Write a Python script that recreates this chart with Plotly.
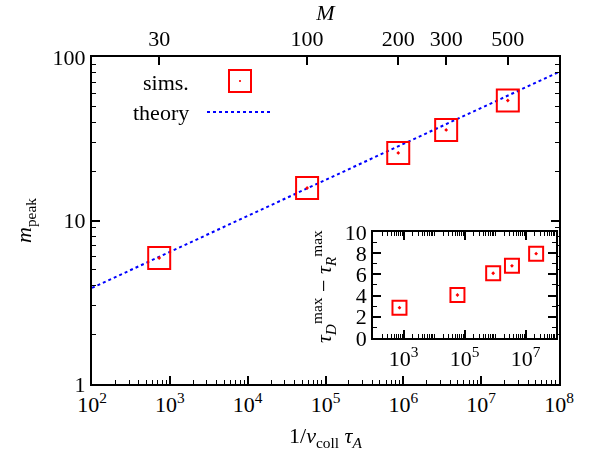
import plotly.graph_objects as go

# ---- data ----
coll_x = [7.3e2, 5.8e4, 8.6e5, 3.55e6, 2.2e7]      # 1/nu_coll tau_A
m_peak = [5.9, 15.8, 25.9, 35.8, 54.2]               # sims.
tau_diff = [2.85, 4.05, 6.1, 6.8, 7.95]              # tau_D^max - tau_R^max
theory_x = [1e2, 1e8]
theory_y = [3.87, 81.0]
M_labels = ["30", "100", "200", "300", "500"]
x_tick_vals = [1e2, 1e3, 1e4, 1e5, 1e6, 1e7, 1e8]
x_tick_text = ["10<sup>%d</sup>" % k for k in range(2, 9)]
inset_x_ticks = [1e3, 1e5, 1e7]
inset_x_text = ["10<sup>3</sup>", "10<sup>5</sup>", "10<sup>7</sup>"]

FONT = "Liberation Serif"
FS = 22
RED = "#ff0000"
BLUE = "#0000ff"

minor_x = [m * 10 ** k for k in range(2, 8) for m in range(2, 10)]
minor_y = [m * 10 ** k for k in range(0, 2) for m in range(2, 10)]
minor_inset_x = [m * 10 ** k for k in range(2, 8) for m in range(1, 10)
                 if not (m == 1 and k in (3, 5, 7))]

fig = go.Figure()

fig.add_trace(go.Scatter(x=theory_x, y=theory_y, mode="lines",
                         line=dict(color=BLUE, width=2, dash="dot"),
                         xaxis="x", yaxis="y", showlegend=False, hoverinfo="skip"))
fig.add_trace(go.Scatter(x=coll_x, y=m_peak, mode="markers",
                         marker=dict(symbol="square-open-dot", size=22, color=RED,
                                     line=dict(color=RED, width=2)),
                         xaxis="x", yaxis="y", showlegend=False))
# invisible trace so the top M axis is drawn
fig.add_trace(go.Scatter(x=coll_x, y=m_peak, mode="markers", opacity=0,
                         xaxis="x2", yaxis="y", showlegend=False, hoverinfo="skip"))
# inset
fig.add_trace(go.Scatter(x=coll_x, y=tau_diff, mode="markers",
                         marker=dict(symbol="square-open-dot", size=14, color=RED,
                                     line=dict(color=RED, width=2)),
                         xaxis="x3", yaxis="y3", showlegend=False))

axis_common = dict(showgrid=False, zeroline=False, showline=True, linecolor="black",
                   linewidth=2, ticks="inside", tickcolor="black", tickwidth=1.5,
                   automargin=False,
                   tickfont=dict(family=FONT, size=FS, color="black"))

fig.update_layout(
    width=590, height=451,
    margin=dict(l=92, r=31, t=57, b=67),
    paper_bgcolor="white", plot_bgcolor="white",
    font=dict(family=FONT, size=FS, color="black"),
    xaxis=dict(**axis_common, type="log", range=[2, 8], ticklen=8,
               tickmode="array", tickvals=x_tick_vals, ticktext=x_tick_text,
               minor=dict(ticks="inside", ticklen=4, tickmode="array", tickvals=minor_x,
                          tickcolor="black", tickwidth=1, showgrid=False),
               title=dict(text="1/<i>ν</i><sub>coll</sub> <i>τ</i><sub><i>A</i></sub>",
                          font=dict(family=FONT, size=FS))),
    xaxis2=dict(**axis_common, type="log", range=[2, 8], overlaying="x", side="top",
                anchor="y", ticklen=8, tickmode="array", tickvals=coll_x,
                ticktext=M_labels,
                title=dict(text="<i>M</i>", font=dict(family=FONT, size=FS))),
    yaxis=dict(**axis_common, type="log", range=[0, 2], ticklen=8, mirror="ticks",
               tickmode="array", tickvals=[1, 10, 100], ticktext=["1", "10", "100"],
               minor=dict(ticks="inside", ticklen=4, tickmode="array", tickvals=minor_y,
                          tickcolor="black", tickwidth=1, showgrid=False),
               title=dict(text="<i>m</i><sub>peak</sub>", font=dict(family=FONT, size=FS))),
    xaxis3=dict(**axis_common, type="log", range=[2, 8], domain=[0.602, 0.994],
                anchor="y3", ticklen=8, mirror="ticks",
                tickmode="array", tickvals=inset_x_ticks, ticktext=inset_x_text,
                minor=dict(ticks="inside", ticklen=4, tickmode="array", tickvals=minor_inset_x,
                           tickcolor="black", tickwidth=1, showgrid=False)),
    yaxis3=dict(**axis_common, range=[0, 10], domain=[0.141, 0.465], anchor="x3",
                ticklen=8, mirror="ticks", tickmode="linear", tick0=0, dtick=2,
                minor=dict(ticks="inside", ticklen=4, dtick=1, tickcolor="black",
                           tickwidth=1, showgrid=False)),
)

# ---- helper: pixel -> paper coordinates ----
def px(x):
    return (x - 92) / 467.0

def py(y):
    return (384 - y) / 327.0

# axis titles placed explicitly
fig.add_annotation(x=px(323), y=py(287), xref="paper", yref="paper",
                   text="<i>τ</i><sub><i>D</i></sub><sup>max</sup> − <i>τ</i><sub><i>R</i></sub><sup>max</sup>",
                   textangle=-90, showarrow=False, xanchor="center", yanchor="middle",
                   font=dict(family=FONT, size=FS))

# ---- legend (gnuplot style: text left, sample right) ----
fig.add_annotation(x=px(191), y=py(82), xref="paper", yref="paper", text="sims.",
                   showarrow=False, xanchor="right", yanchor="middle",
                   font=dict(family=FONT, size=FS))
fig.add_annotation(x=px(191), y=py(112), xref="paper", yref="paper", text="theory",
                   showarrow=False, xanchor="right", yanchor="middle",
                   font=dict(family=FONT, size=FS))
fig.add_shape(type="rect", xref="paper", yref="paper",
              x0=px(229), x1=px(251), y0=py(92), y1=py(70),
              line=dict(color=RED, width=2), fillcolor="rgba(0,0,0,0)")
fig.add_shape(type="rect", xref="paper", yref="paper",
              x0=px(239.5), x1=px(240.5), y0=py(81.5), y1=py(80.5),
              line=dict(color=RED, width=1), fillcolor=RED)
fig.add_shape(type="line", xref="paper", yref="paper",
              x0=px(207), x1=px(270), y0=py(112), y1=py(112),
              line=dict(color=BLUE, width=2, dash="dot"))

fig.write_html("out.html")
